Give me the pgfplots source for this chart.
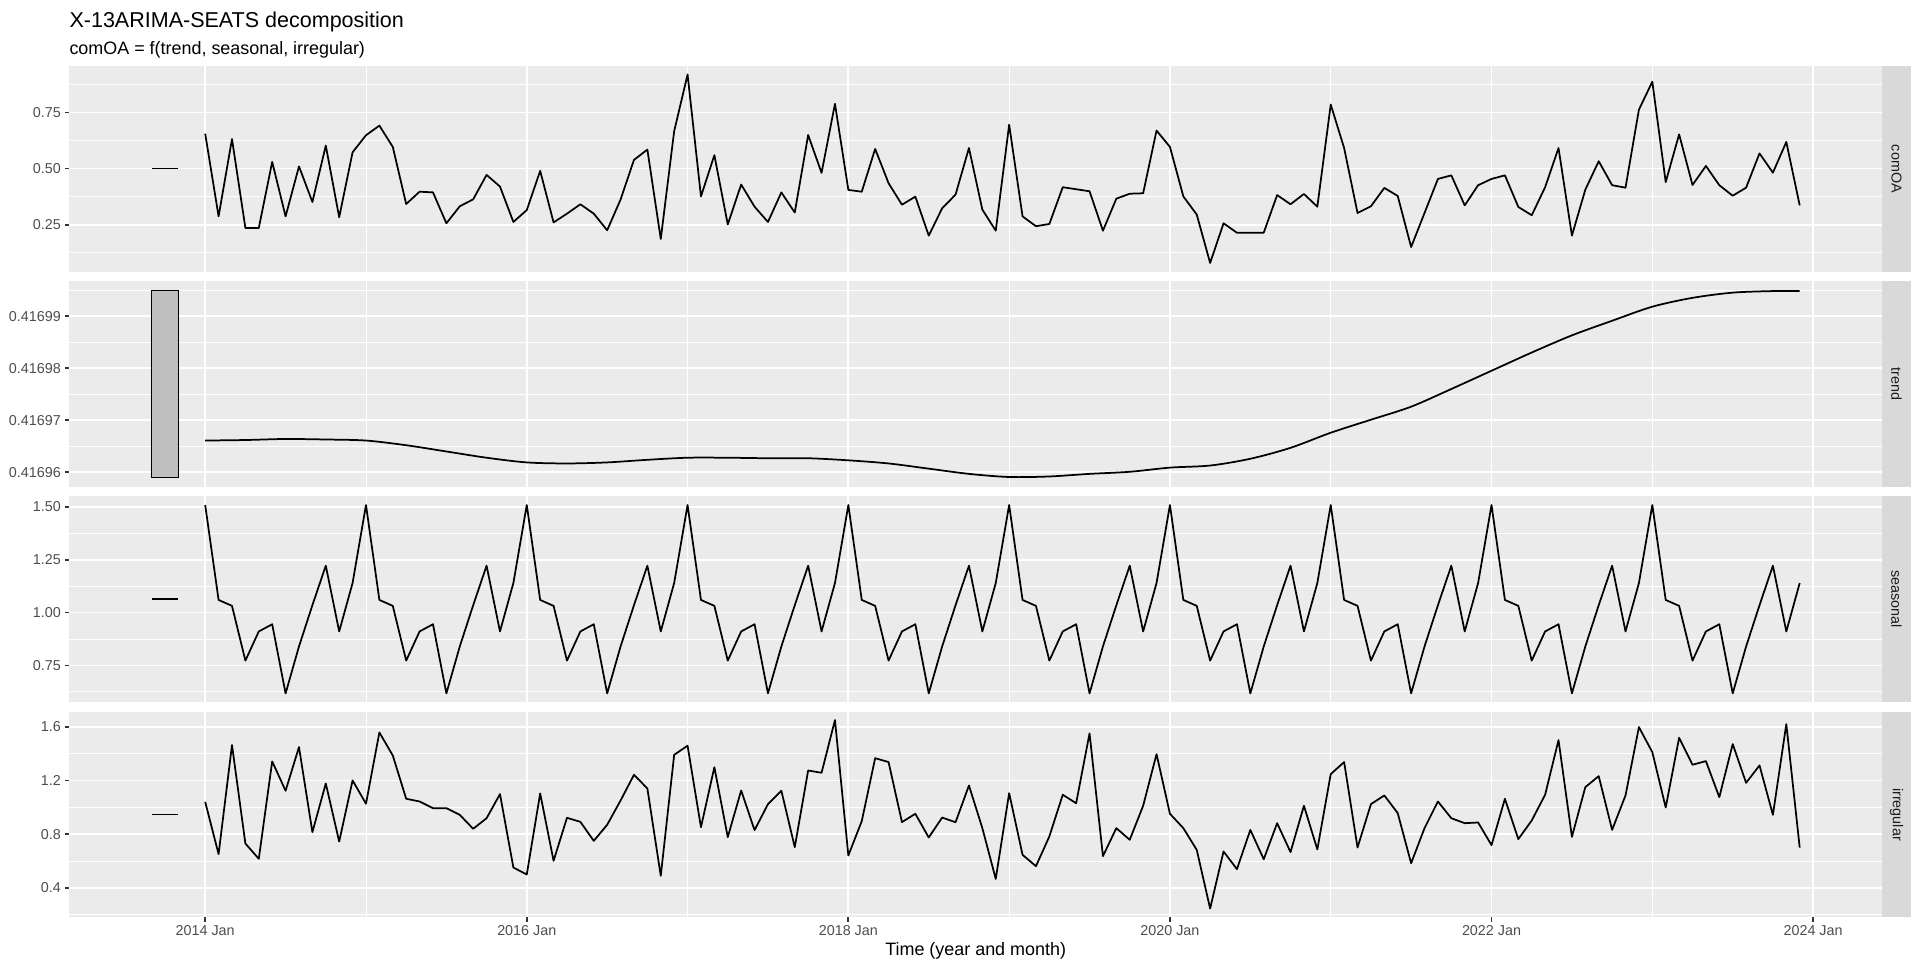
\documentclass[border=0pt]{standalone}
\usepackage{fontspec}
\setmainfont{Liberation Sans}
\usepackage{pgfplots}
\pgfplotsset{compat=1.18}
\usepackage{pgfplotstable}

\definecolor{ggbg}{HTML}{EBEBEB}
\definecolor{ggstrip}{HTML}{D9D9D9}
\definecolor{gray30}{HTML}{4D4D4D}
\definecolor{gray20}{HTML}{333333}
\definecolor{gray10}{HTML}{1A1A1A}
\definecolor{gray75}{HTML}{BFBFBF}

% trend values 0.4169abc are read as a.bc (units of 1e-5 above 0.4169) for precision
\def\trendparse#1.4169#2#3#4#5\relax{\def\pgfmathresult{#2.#3#4}}

% m = months since 2014 Jan
\pgfplotstableread{
m comOA seasonal irregular
0 0.656 1.509 1.041
1 0.287 1.060 0.651
2 0.632 1.032 1.465
3 0.235 0.773 0.730
4 0.235 0.911 0.616
5 0.530 0.945 1.343
6 0.287 0.618 1.124
7 0.510 0.840 1.450
8 0.351 1.035 0.815
9 0.603 1.222 1.178
10 0.283 0.911 0.745
11 0.573 1.140 1.201
12 0.649 1.509 1.027
13 0.692 1.060 1.559
14 0.597 1.032 1.387
15 0.342 0.773 1.064
16 0.397 0.911 1.044
17 0.394 0.945 0.994
18 0.256 0.618 0.994
19 0.332 0.840 0.944
20 0.363 1.035 0.840
21 0.472 1.222 0.919
22 0.420 0.911 1.099
23 0.262 1.140 0.551
24 0.315 1.509 0.499
25 0.490 1.060 1.104
26 0.260 1.032 0.601
27 0.299 0.773 0.922
28 0.341 0.911 0.892
29 0.299 0.945 0.750
30 0.225 0.618 0.870
31 0.362 0.840 1.051
32 0.539 1.035 1.243
33 0.585 1.222 1.141
34 0.186 0.911 0.489
35 0.667 1.140 1.392
36 0.920 1.509 1.460
37 0.376 1.060 0.852
38 0.560 1.032 1.300
39 0.251 0.773 0.778
40 0.429 0.911 1.126
41 0.330 0.945 0.830
42 0.262 0.618 1.024
43 0.394 0.840 1.124
44 0.304 1.035 0.703
45 0.650 1.222 1.275
46 0.481 0.911 1.258
47 0.789 1.140 1.651
48 0.405 1.509 0.641
49 0.397 1.060 0.897
50 0.588 1.032 1.367
51 0.435 0.773 1.338
52 0.339 0.911 0.890
53 0.375 0.945 0.952
54 0.201 0.618 0.775
55 0.323 0.840 0.924
56 0.384 1.035 0.889
57 0.592 1.222 1.163
58 0.317 0.911 0.845
59 0.223 1.140 0.466
60 0.696 1.509 1.106
61 0.287 1.060 0.646
62 0.243 1.032 0.561
63 0.253 0.773 0.783
64 0.417 0.911 1.094
65 0.408 0.945 1.031
66 0.399 0.618 1.552
67 0.223 0.840 0.636
68 0.366 1.035 0.845
69 0.388 1.222 0.758
70 0.390 0.911 1.012
71 0.670 1.140 1.397
72 0.597 1.509 0.952
73 0.376 1.060 0.845
74 0.295 1.032 0.683
75 0.079 0.773 0.245
76 0.256 0.911 0.671
77 0.214 0.945 0.539
78 0.214 0.618 0.832
79 0.214 0.840 0.613
80 0.382 1.035 0.882
81 0.341 1.222 0.666
82 0.387 0.911 1.012
83 0.330 1.140 0.686
84 0.786 1.509 1.248
85 0.592 1.060 1.338
86 0.302 1.032 0.700
87 0.332 0.773 1.024
88 0.414 0.911 1.089
89 0.378 0.945 0.957
90 0.150 0.618 0.583
91 0.302 0.840 0.845
92 0.454 1.035 1.044
93 0.470 1.222 0.919
94 0.336 0.911 0.882
95 0.426 1.140 0.887
96 0.454 1.509 0.718
97 0.470 1.060 1.064
98 0.329 1.032 0.763
99 0.292 0.773 0.902
100 0.417 0.911 1.094
101 0.592 0.945 1.502
102 0.201 0.618 0.780
103 0.406 0.840 1.151
104 0.533 1.035 1.233
105 0.426 1.222 0.832
106 0.415 0.911 1.089
107 0.763 1.140 1.599
108 0.888 1.509 1.412
109 0.440 1.060 0.999
110 0.653 1.032 1.519
111 0.427 0.773 1.318
112 0.512 0.911 1.345
113 0.426 0.945 1.076
114 0.379 0.618 1.472
115 0.415 0.840 1.183
116 0.568 1.035 1.313
117 0.482 1.222 0.944
118 0.619 0.911 1.621
119 0.336 1.140 0.700
}\comps

\pgfplotstableread{
m trend
0 0.4169661
3 0.4169662
6 0.4169664
9 0.4169663
12 0.4169661
15 0.4169652
18 0.4169640
21 0.4169628
24 0.4169619
27 0.4169617
30 0.4169619
33 0.4169624
36 0.4169628
39 0.4169628
42 0.4169627
45 0.4169627
48 0.4169623
51 0.4169617
54 0.4169607
57 0.4169597
60 0.4169591
63 0.4169592
66 0.4169597
69 0.4169601
72 0.4169609
75 0.4169613
78 0.4169626
81 0.4169647
84 0.4169676
87 0.4169701
90 0.4169726
93 0.4169760
96 0.4169795
99 0.4169830
102 0.4169863
105 0.4169891
108 0.4169918
111 0.4169935
114 0.4169945
117 0.4169948
119 0.4169948
}\trendtab

% scale bar of the trend panel (spans the trend's range)
\pgfplotstableread{
m v
-4 0.4169590
-2 0.4169590
-2 0.4169949
-4 0.4169949
-4 0.4169590
}\trendbar

\pgfplotsset{
  ggpanel/.style={
    scale only axis, width=1112.2pt, height=126.2pt,
    anchor=north west,
    xmin=-10.15, xmax=125.15,
    axis background/.style={fill=ggbg},
    axis line style={draw=none},
    xtick={0,24,48,72,96,120},
    minor xtick={12,36,60,84,108},
    xtick pos=left, ytick pos=left,
    xmajorgrids, xminorgrids, ymajorgrids, yminorgrids,
    major grid style={white, line width=1.07pt},
    minor grid style={white, line width=0.53pt},
    tick align=outside,
    major tick length=2.75pt,
    minor tick length=0pt,
    tick style={gray20, line width=1.07pt},
    yticklabel style={font=\fontsize{8.8}{10}\selectfont, text=gray30, inner sep=0pt, xshift=-2.2pt},
    xticklabel style={font=\fontsize{8.8}{10}\selectfont, text=gray30, inner sep=0pt, yshift=-2.2pt},
  },
  ggtop/.style={xmajorticks=false, xticklabels={}},
  ggline/.style={black, line width=1.07pt, line join=round, mark=none},
  ggbar/.style={black, line width=0.9pt, mark=none},
}

\begin{document}
\begin{tikzpicture}
\useasboundingbox (0,0) rectangle (1177.9pt,-596.9pt);

\node[anchor=base west, inner sep=0pt, font=\fontsize{13.2}{15}\selectfont] at (42.45pt,-16.9pt) {X-13ARIMA-SEATS decomposition};
\node[anchor=base west, inner sep=0pt, font=\fontsize{11}{13}\selectfont] at (42.45pt,-33.7pt) {comOA = f(trend, seasonal, irregular)};

% panel 1: comOA
\begin{axis}[ggpanel, ggtop, name=pA, at={(42.45pt,-40.49pt)},
  ymin=0.040, ymax=0.958,
  ytick={0.25,0.5,0.75}, yticklabels={0.25,0.50,0.75},
  minor ytick={0.125,0.375,0.625,0.875}]
\addplot[ggbar] coordinates {(-4,0.5) (-2,0.5)};
\addplot[ggline] table[x=m, y=comOA] {\comps};
\end{axis}
\fill[ggstrip] (pA.north east) rectangle ([xshift=17.8pt]pA.south east);
\node[rotate=-90, text=gray10, font=\fontsize{8.8}{10}\selectfont] at ([xshift=8.9pt]pA.east) {comOA};

% panel 2: trend
\begin{axis}[ggpanel, ggtop, name=pB, at={(42.45pt,-172.5pt)},
  y coord trafo/.code={\edef\trendtmp{#1}\expandafter\trendparse\trendtmp.4169000\relax},
  ymin=0.4169572, ymax=0.4169967,
  ytick={0.4169600,0.4169700,0.4169800,0.4169900},
  yticklabels={0.41696,0.41697,0.41698,0.41699},
  minor ytick={0.4169650,0.4169750,0.4169850,0.4169950}]
\addplot[fill=gray75, draw=black, line width=0.5pt, mark=none] table[x=m, y=v] {\trendbar};
\addplot[ggline, smooth, tension=0.5] table[x=m, y=trend] {\trendtab};
\end{axis}
\fill[ggstrip] (pB.north east) rectangle ([xshift=17.8pt]pB.south east);
\node[rotate=-90, text=gray10, font=\fontsize{8.8}{10}\selectfont] at ([xshift=8.9pt]pB.east) {trend};

% panel 3: seasonal
\begin{axis}[ggpanel, ggtop, name=pC, at={(42.45pt,-304.5pt)},
  ymin=0.577, ymax=1.550,
  ytick={0.75,1,1.25,1.5}, yticklabels={0.75,1.00,1.25,1.50},
  minor ytick={0.625,0.875,1.125,1.375}]
\addplot[ggbar] coordinates {(-4,1.0635) (-2,1.0635)};
\addplot[ggline] table[x=m, y=seasonal] {\comps};
\end{axis}
\fill[ggstrip] (pC.north east) rectangle ([xshift=17.8pt]pC.south east);
\node[rotate=-90, text=gray10, font=\fontsize{8.8}{10}\selectfont] at ([xshift=8.9pt]pC.east) {seasonal};

% panel 4: irregular
\begin{axis}[ggpanel, name=pD, at={(42.45pt,-436.6pt)},
  ymin=0.179, ymax=1.714,
  ytick={0.4,0.8,1.2,1.6}, yticklabels={0.4,0.8,1.2,1.6},
  minor ytick={0.2,0.6,1.0,1.4},
  xticklabels={2014 Jan,2016 Jan,2018 Jan,2020 Jan,2022 Jan,2024 Jan}]
\addplot[ggbar] coordinates {(-4,0.948) (-2,0.948)};
\addplot[ggline] table[x=m, y=irregular] {\comps};
\end{axis}
\fill[ggstrip] (pD.north east) rectangle ([xshift=17.8pt]pD.south east);
\node[rotate=-90, text=gray10, font=\fontsize{8.8}{10}\selectfont] at ([xshift=8.9pt]pD.east) {irregular};

\node[anchor=base, inner sep=0pt, font=\fontsize{11}{13}\selectfont] at (598.55pt,-585.9pt) {Time (year and month)};
\end{tikzpicture}
\end{document}
